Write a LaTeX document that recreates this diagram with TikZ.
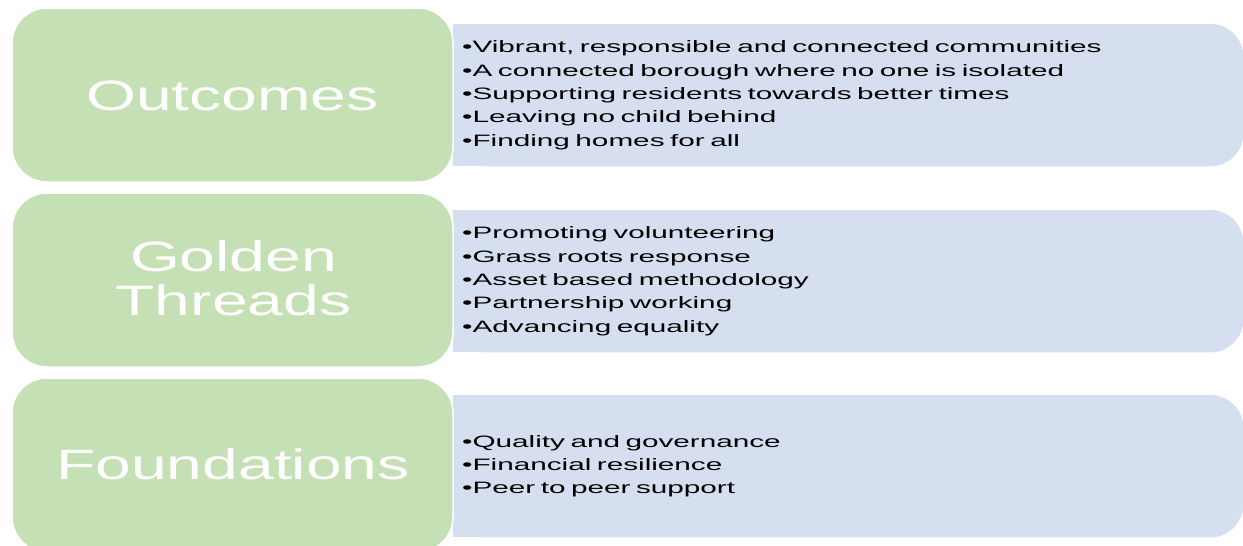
\documentclass[tikz,border=0pt]{standalone}
\usepackage{fontspec}
\usetikzlibrary{backgrounds}
\newfontfamily\bodyfont[FakeStretch=1.8]{Liberation Sans}
\newfontfamily\headfont[FakeStretch=1.51]{Liberation Sans}
\definecolor{greenfill}{HTML}{C5E0B4}
\definecolor{bluefill}{HTML}{D5DFEF}
\tikzset{
  greenbox/.style={rectangle, rounded corners=35pt, fill=greenfill, draw=white, line width=1.5pt,
    minimum width=441pt, minimum height=174pt, inner sep=0pt},
  bluebox/.style={rectangle, anchor=north west, minimum width=790pt, minimum height=142pt,
    text width=772pt, inner xsep=9pt, inner ysep=0pt, align=left,
    font=\bodyfont\fontsize{16.5}{23.3}\selectfont, text=black},
  headtext/.style={text=white, font=\headfont\fontsize{42.5}{44}\selectfont, align=center, inner sep=0pt},
  bluebg/.style={fill=bluefill}
}
\begin{document}
\begin{tikzpicture}[x=1pt,y=1pt]
\useasboundingbox (0,0) rectangle (1243,-546);
\clip (0,0) rectangle (1243,-546);

% blue panels with text
\node[bluebox] (b1) at (453,-24) {•Vibrant, responsible and connected communities\\•A connected borough where no one is isolated\\•Supporting residents towards better times\\•Leaving no child behind\\•Finding homes for all};
\node[bluebox] (b2) at (453,-210) {•Promoting volunteering\\•Grass roots response\\•Asset based methodology\\•Partnership working\\•Advancing equality};
\node[bluebox] (b3) at (453,-395) {•Quality and governance\\•Financial resilience\\•Peer to peer support};

\begin{pgfonlayer}{background}
  \foreach \b in {b1,b2,b3}{
    \fill[bluebg, rounded corners=33pt] (\b.north west) rectangle (\b.south east);
    \fill[bluebg] (\b.north west) rectangle ([xshift=60pt]\b.south west);
  }
\end{pgfonlayer}

% green panels
\node[greenbox] (g1) at (232.5,-95) {};
\node[greenbox] (g2) at (232.5,-280) {};
\node[greenbox] (g3) at (232.5,-465) {};

% green labels
\node[headtext, anchor=base] (t1) at (232.5,-110) {Outcomes};
\node[headtext] (t2) at (233.5,-278) {Golden\\Threads};
\node[headtext, anchor=base] (t3) at (233,-479) {Foundations};
\end{tikzpicture}
\end{document}
